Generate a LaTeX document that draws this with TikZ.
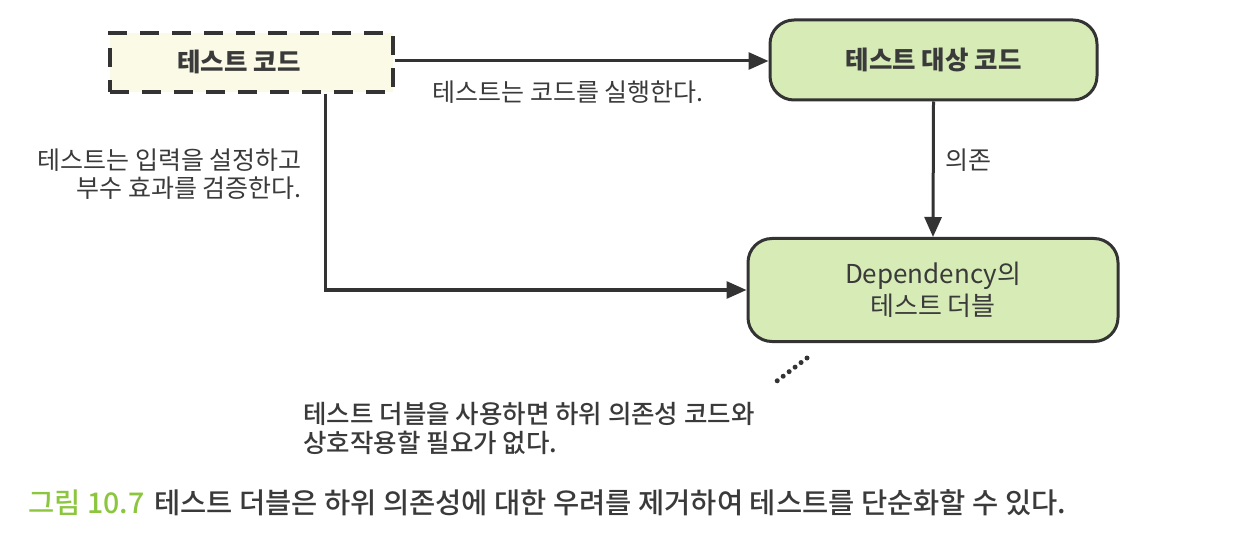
\documentclass[tikz,border=0pt]{standalone}
\usepackage{fontspec}
\setmainfont{Noto Sans CJK KR}
\newfontfamily\krmed{Noto Sans CJK KR Medium}
\usetikzlibrary{arrows.meta}
\definecolor{boxgreen}{HTML}{D6EBB6}
\definecolor{cream}{HTML}{FAFAE6}
\definecolor{ink}{HTML}{333333}
\definecolor{capgreen}{HTML}{8CC63F}
\definecolor{txt}{HTML}{3A3A3A}
\tikzset{
  solidbox/.style={draw=ink, line width=3pt, fill=boxgreen, rounded corners=24pt, align=center, text=txt, inner sep=0pt},
  dashbox/.style={draw=ink, line width=3.5pt, fill=cream, dash pattern=on 19pt off 13pt, inner sep=0pt},
  conn/.style={draw=ink, line width=3pt, -{Triangle[length=20pt,width=17pt]}},
  lbl/.style={text=txt, font=\fontsize{25}{28}\selectfont, inner sep=0pt},
}
\begin{document}
\begin{tikzpicture}[x=1pt,y=-1pt]
\useasboundingbox (0,0) rectangle (1247,537);
\node[dashbox, minimum width=283pt, minimum height=59pt] (code) at (251.5,62.5) {};
\node[text=txt, font=\fontsize{25.5}{26}\selectfont\bfseries] (codet) at (239,62) {테스트 코드};
\node[solidbox, minimum width=327pt, minimum height=80pt, font=\fontsize{25.5}{26}\selectfont\bfseries] (target) at (933.5,60) {테스트 대상 코드};
\node[solidbox, minimum width=370pt, minimum height=103pt, font=\fontsize{26}{32}\selectfont] (double) at (933,290) {Dependency의\\테스트 더블};
\draw[conn] (code.east |- 0,61) -- (target.west |- 0,61);
\node[lbl] (l1) at (568,92) {테스트는 코드를 실행한다.};
\draw[conn] (target.south) -- (double.north);
\node[lbl] (l2) at (968,160) {의존};
\draw[conn] ([xshift=73.5pt]code.south) |- (double.west);
\node[lbl, align=right, anchor=east] (l3) at (302,174) {테스트는 입력을 설정하고\\부수 효과를 검증한다.};
\coordinate (d1) at (807,358);
\coordinate (d2) at (773,384);
\draw[ink, line width=5pt, line cap=round, dash pattern=on 0pt off 7.5pt] (d1) -- (d2);
\node[text=txt, font=\fontsize{25.5}{29}\selectfont\krmed, align=left, anchor=west] (note) at (300,428) {테스트 더블을 사용하면 하위 의존성 코드와\\상호작용할 필요가 없다.};
\node[anchor=west, inner sep=0pt, font=\fontsize{28.5}{30}\selectfont\krmed] (cap) at (28,503) {\textcolor{capgreen}{그림 10.7}\hspace{10pt}\textcolor{txt}{테스트 더블은 하위 의존성에 대한 우려를 제거하여 테스트를 단순화할 수 있다.}};
\end{tikzpicture}
\end{document}
